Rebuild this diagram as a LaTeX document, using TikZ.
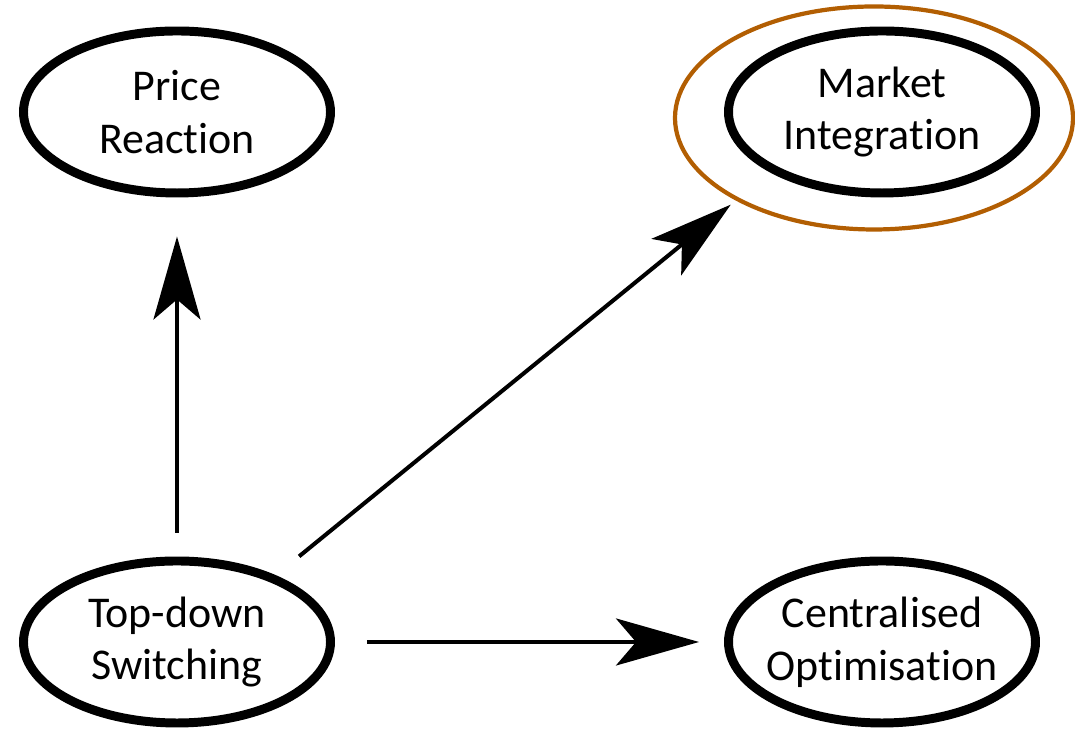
\documentclass[tikz,border=0pt]{standalone}
\usepackage{fontspec}
\setmainfont{Carlito}[Ligatures=NoCommon]
\usetikzlibrary{arrows.meta}
\usetikzlibrary{shapes.geometric}
\tikzset{>={Stealth[length=1.66cm, width=0.94cm, inset=0.4cm]}}
\definecolor{ringbrown}{RGB}{178,94,2}

\begin{document}
\begin{tikzpicture}[
        idea/.style={
            ellipse, draw, line width=5.1pt, inner xsep=-0.2cm, inner ysep=0pt,
            minimum width=6.14cm, minimum height=3.24cm,
            align=center, font=\fontsize{25}{30}\selectfont,
        },
        link/.style={->, line width=2.3pt},
        ring/.style={draw=ringbrown, line width=2.4pt},
    ]
    \useasboundingbox (-3.54,-1.78) rectangle (17.96,12.84);

    \node[idea] (td) at (0,0) {Top-down\\Switching};
    \node[idea] (pr) at (0,10.6) {Price\\Reaction};
    \node[idea] (mi) at (14.1,10.6) {Market\\Integration};
    \node[idea] (co) at (14.1,0) {Centralised\\Optimisation};

    \draw[ring] ([shift={(-0.16,-0.12)}]mi.center) ellipse (3.98 and 2.23);

    \draw[link, shorten <=0.48cm, shorten >=0.78cm] (td.north) -- (pr.south);
    \draw[link, shorten <=0.6cm, shorten >=1.02cm] (td.34) -- (mi.south west);
    \draw[link, shorten <=0.64cm, shorten >=0.5cm] (td.east) -- (co.west);
\end{tikzpicture}
\end{document}
